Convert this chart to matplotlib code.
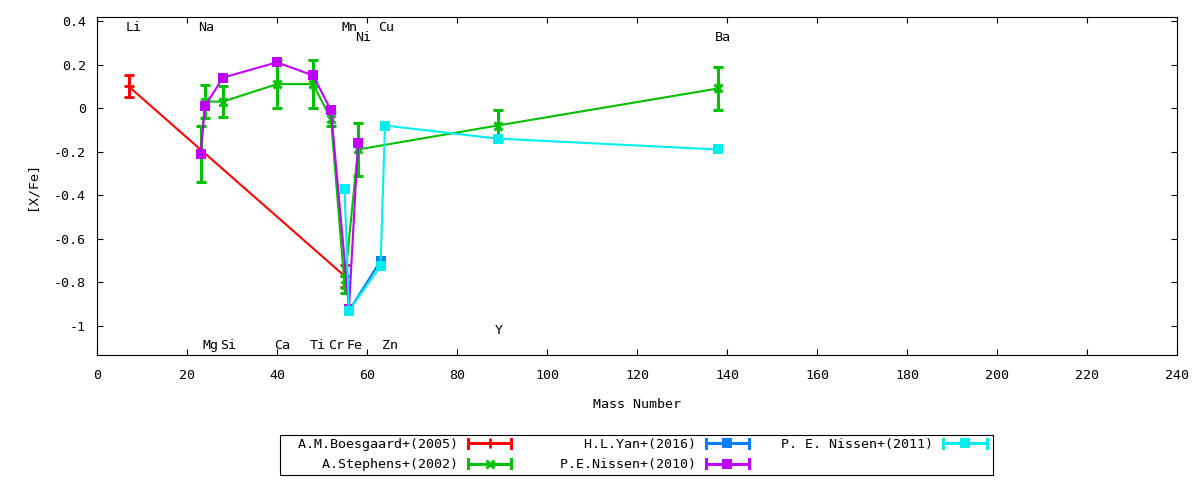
import matplotlib
matplotlib.use("Agg")
import matplotlib.pyplot as plt
from matplotlib.lines import Line2D
from matplotlib.patches import Rectangle
from matplotlib.legend_handler import HandlerBase

# ---------------- data ----------------
boes_x = [7, 55]
boes_y = [0.10, -0.77]
boes_e = [0.05, 0.05]

steph_x = [23, 24, 28, 40, 48, 52, 55, 58, 89, 138]
steph_y = [-0.21, 0.03, 0.03, 0.11, 0.11, -0.05, -0.81, -0.19, -0.08, 0.09]
steph_e = [0.13, 0.075, 0.07, 0.11, 0.11, 0.03, 0.04, 0.12, 0.07, 0.10]

yan_x = [56, 63]
yan_y = [-0.93, -0.70]

nis10_x = [23, 24, 28, 40, 48, 52, 56, 58]
nis10_y = [-0.21, 0.01, 0.14, 0.21, 0.15, -0.01, -0.92, -0.16]

nis11_x = [55, 56, 63, 64, 89, 138]
nis11_y = [-0.37, -0.93, -0.725, -0.08, -0.14, -0.19]

elem_names = ['Li', 'Na', 'Mn', 'Cu', 'Ni', 'Ba',
              'Mg', 'Si', 'Ca', 'Ti', 'Cr', 'Fe', 'Zn', 'Y']
elem_x = [7, 23, 55, 63, 58, 138, 24, 28, 40, 48, 52, 56, 64, 89]
elem_y = [0.372, 0.372, 0.372, 0.372, 0.326, 0.326,
          -1.09, -1.09, -1.09, -1.09, -1.09, -1.09, -1.09, -1.021]

series_labels = ['A.M.Boesgaard+(2005)', 'A.Stephens+(2002)', 'H.L.Yan+(2016)',
                 'P.E.Nissen+(2010)', 'P. E. Nissen+(2011)']

x_ticks = [0, 20, 40, 60, 80, 100, 120, 140, 160, 180, 200, 220, 240]
y_ticks = [0.4, 0.2, 0, -0.2, -0.4, -0.6, -0.8, -1]
y_tick_labels = ['0.4', '0.2', '0', '-0.2', '-0.4', '-0.6', '-0.8', '-1']

# ---------------- style ----------------
RED, GREEN, BLUE, PURPLE, CYAN = '#ff0000', '#00c000', '#0080ff', '#c000ff', '#00eeee'
FONT = 'DejaVu Sans Mono'
FS = 9.6
plt.rcParams['font.family'] = [FONT]
plt.rcParams['font.size'] = FS

fig = plt.figure(figsize=(12, 4.8), dpi=100)
ax = fig.add_axes([97/1200, 1-355/480, (1177-97)/1200, (355-17)/480])

LW = 1.5
ELW = 2.2
CAP = 3.3
MS = 7.2

ax.errorbar(boes_x, boes_y, yerr=boes_e, color=RED, lw=LW, elinewidth=ELW,
            capsize=CAP, capthick=ELW, marker='+', ms=7, mew=2, zorder=3)
ax.errorbar(steph_x, steph_y, yerr=steph_e, color=GREEN, lw=LW, elinewidth=ELW,
            capsize=CAP, capthick=ELW, marker='x', ms=5.5, mew=2.2, zorder=4)
ax.plot(yan_x, yan_y, color=BLUE, lw=LW, marker='s', ms=MS, mew=0, zorder=5)
ax.plot(nis10_x, nis10_y, color=PURPLE, lw=LW, marker='s', ms=MS, mew=0, zorder=6)
ax.plot(nis11_x, nis11_y, color=CYAN, lw=LW, marker='s', ms=MS, mew=0, zorder=7)

for name, xx, yy in zip(elem_names, elem_x, elem_y):
    ax.annotate(name, xy=(xx, yy), xytext=(-2, 0), textcoords='offset points',
                ha='left', va='center', fontsize=FS, fontfamily=FONT, zorder=10)

ax.set_xlim(0, 240)
ax.set_ylim(-1.133, 0.418)
ax.set_xticks(x_ticks)
ax.set_yticks(y_ticks)
ax.set_yticklabels(y_tick_labels)
ax.tick_params(direction='in', length=4, width=0.8, top=True, right=True,
               labelsize=FS, colors='black')
ax.tick_params(axis='x', pad=10)
ax.tick_params(axis='y', pad=8)
for s in ax.spines.values():
    s.set_linewidth(0.8)

fig.text(637/1200, 1-405/480, 'Mass Number', ha='center', va='center', fontsize=FS)
fig.text(32/1200, 1-186/480, '[X/Fe]', ha='center', va='center', rotation=90, fontsize=FS)

# ---------------- legend ----------------
class ErrKey:
    def __init__(self, color, marker, ms, mew):
        self.color, self.marker, self.ms, self.mew = color, marker, ms, mew

SAMPLE_FRAC = 43/51

class HandlerErrKey(HandlerBase):
    def create_artists(self, legend, h, xdescent, ydescent, width, height, fontsize, trans):
        y = height/2 - ydescent
        x0 = -xdescent
        x1 = x0 + width*SAMPLE_FRAC
        cap = 3.3
        arts = [
            Line2D([x0, x1], [y, y], color=h.color, lw=ELW, solid_capstyle='butt'),
            Line2D([x0, x0], [y-cap, y+cap], color=h.color, lw=ELW),
            Line2D([x1, x1], [y-cap, y+cap], color=h.color, lw=ELW),
            Line2D([(x0+x1)/2], [y], color=h.color, marker=h.marker, ms=h.ms,
                   mew=h.mew, ls='none'),
        ]
        for a in arts:
            a.set_transform(trans)
        return arts

handles = [ErrKey(RED, '+', 7, 2), ErrKey(GREEN, 'x', 5.5, 2.2),
           ErrKey(BLUE, 's', MS, 0), ErrKey(PURPLE, 's', MS, 0),
           ErrKey(CYAN, 's', MS, 0)]
labels = [l.rjust(22) for l in series_labels]

leg = fig.legend(handles, labels, handler_map={ErrKey: HandlerErrKey()},
                 loc='upper left', bbox_to_anchor=(280/1200, 1-436/480),
                 bbox_transform=fig.transFigure, ncol=3, markerfirst=False,
                 frameon=False, borderpad=0.15, borderaxespad=0,
                 handlelength=3.83, handletextpad=0.75, columnspacing=0.05,
                 labelspacing=0.555, prop={'family': FONT, 'size': FS})

fig.add_artist(Rectangle((280/1200, 1-475/480), (993-280)/1200, 40/480,
                         transform=fig.transFigure, fill=False,
                         edgecolor='black', lw=0.8))

fig.savefig('out.png', dpi=100)
